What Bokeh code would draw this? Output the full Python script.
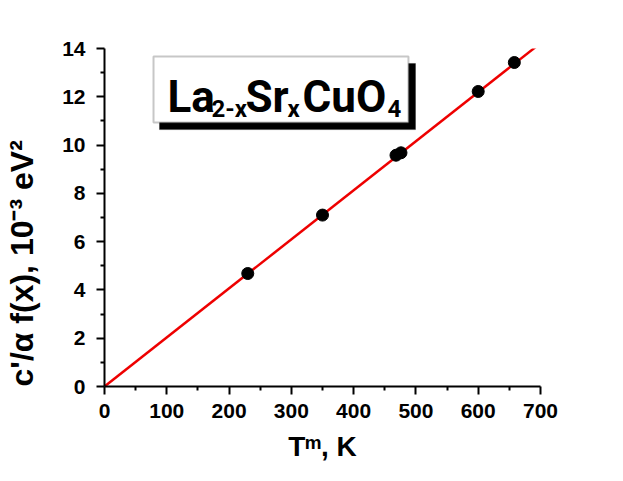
from bokeh.plotting import figure
from bokeh.models import FixedTicker, Title, Label, BoxAnnotation, Range1d
from bokeh.embed import file_html
from bokeh.resources import INLINE

# ---- data ----
temp_K = [230, 350, 468, 476, 600, 658]
energy = [4.68, 7.10, 9.58, 9.68, 12.22, 13.42]
fit_x = [0, 700]
fit_y = [0, 14.22]
x_ticks = [0, 100, 200, 300, 400, 500, 600, 700]
y_ticks = [0, 2, 4, 6, 8, 10, 12, 14]
x_minor = [50, 150, 250, 350, 450, 550, 650]
y_minor = [1, 3, 5, 7, 9, 11, 13]

FONT = "Liberation Sans"
FORMULA_FONT = "Roboto"

p = figure(width=623, height=481, output_backend="svg", toolbar_location=None,
           x_range=Range1d(0, 700), y_range=Range1d(0, 14),
           min_border_left=104, min_border_right=83, min_border_top=48, min_border_bottom=95)
p.outline_line_color = None
p.xgrid.visible = False
p.ygrid.visible = False
p.background_fill_color = "white"
p.border_fill_color = "white"

p.xaxis.ticker = FixedTicker(ticks=x_ticks, minor_ticks=x_minor)
p.yaxis.ticker = FixedTicker(ticks=y_ticks, minor_ticks=y_minor)
for ax in (p.xaxis, p.yaxis):
    ax.axis_line_width = 2
    ax.axis_line_color = "black"
    ax.major_tick_line_width = 2
    ax.minor_tick_line_width = 2
    ax.major_tick_in = 0
    ax.major_tick_out = 8
    ax.minor_tick_in = 0
    ax.minor_tick_out = 4
    ax.major_label_text_font = FONT
    ax.major_label_text_font_style = "bold"
    ax.major_label_text_font_size = "21px"
    ax.major_label_text_color = "black"
p.xaxis.major_label_standoff = 9
p.yaxis.major_label_standoff = 11

# fit line and points
p.line(fit_x, fit_y, line_color="#ee0000", line_width=2.5)
p.scatter(temp_K, energy, size=12, fill_color="black", line_color="black")

# axis titles (a thin blank spacer keeps the y title away from the tick labels)
p.add_layout(Title(text=" ", text_font_size="1px", standoff=17), "left")
p.add_layout(Title(text="c'/\u03b1 f(x), 10\u207b\u00b3 eV\u00b2", align="left",
                   text_font=FONT, text_font_style="bold", text_font_size="32px",
                   text_color="black", standoff=0), "left")
p.add_layout(Title(text="T\u1d50, K", align="center",
                   text_font=FONT, text_font_style="bold", text_font_size="28px",
                   text_color="black", standoff=17), "below")

# compound formula box with shadow
p.add_layout(BoxAnnotation(left=88.3, right=499.3, top=13.38, bottom=10.64,
                           fill_color="black", fill_alpha=1, line_color="black"))
p.add_layout(BoxAnnotation(left=78.7, right=488.0, top=13.67, bottom=10.94,
                           fill_color="white", fill_alpha=1, line_color="#444444",
                           line_width=2))

big = "44px"
small = "24px"
parts = [("La", 101, 12.0, big), ("2-x", 171.8, 11.5, small),
         ("Sr", 226.4, 12.0, big), ("x", 293.8, 11.5, small),
         ("CuO", 317.9, 12.0, big), ("4", 454.3, 11.5, small)]
for txt, xx, yy, fs in parts:
    p.add_layout(Label(x=xx, y=yy, text=txt, text_font=FORMULA_FONT, text_font_style="bold",
                       text_font_size=fs, text_baseline="alphabetic", text_color="black"))

open("out.html", "w").write(file_html(p, INLINE))
